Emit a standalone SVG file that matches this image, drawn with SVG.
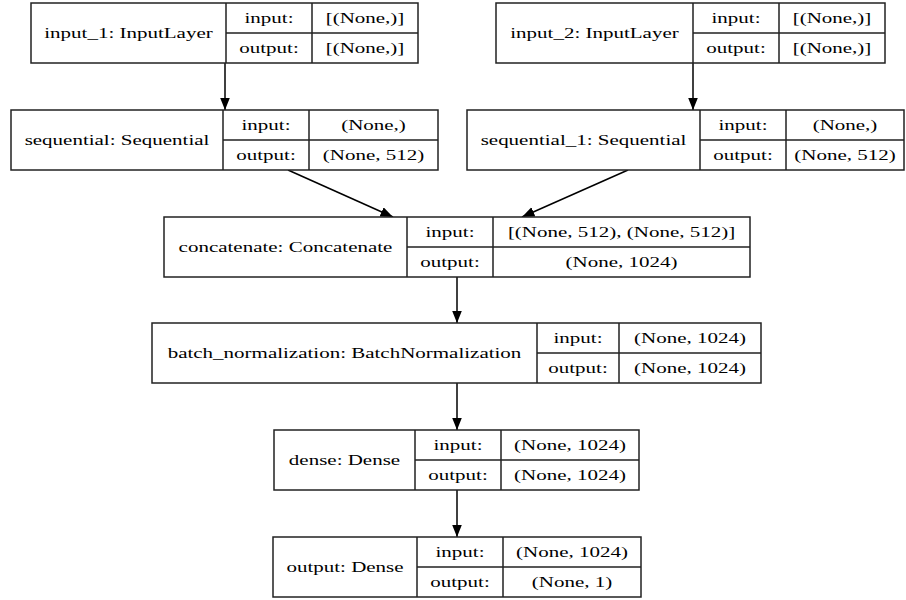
<svg xmlns="http://www.w3.org/2000/svg" width="906" height="600" viewBox="0 0 906 600">
<style>
.box{fill:#fff;stroke:#222;stroke-width:1.5}
.ln{stroke:#222;stroke-width:1.5;fill:none}
.t{font-family:"Liberation Serif","Times New Roman",serif;font-size:15px;fill:#000;text-anchor:middle}
.e{stroke:#000;stroke-width:1.5;fill:none;marker-end:url(#ah)}
</style>
<defs>
<marker id="ah" markerUnits="userSpaceOnUse" markerWidth="14" markerHeight="11" refX="12.5" refY="5" orient="auto">
<path d="M0,0 L12.5,5 L0,10 z" fill="#000"/>
</marker>
</defs>
<rect width="906" height="600" fill="#fff"/>
<g id="connectors">
<line class="e" x1="225" y1="63" x2="225" y2="110"/>
<line class="e" x1="693" y1="63" x2="693" y2="110"/>
<line class="e" x1="288" y1="170" x2="393" y2="217"/>
<line class="e" x1="628" y1="170" x2="522" y2="217"/>
<line class="e" x1="457" y1="277" x2="457" y2="323"/>
<line class="e" x1="457" y1="383" x2="457" y2="430"/>
<line class="e" x1="457" y1="490" x2="457" y2="537"/>
</g>
<g id="input_1">
<rect class="box" x="31" y="3" width="387" height="60"/>
<path class="ln" d="M226,3V63M312,3V63M226,33H418"/>
<text class="t" transform="translate(128.5,38) scale(1.4,1)">input_1: InputLayer</text>
<text class="t" transform="translate(269,23) scale(1.4,1)">input:</text>
<text class="t" transform="translate(269,53) scale(1.4,1)">output:</text>
<text class="t" transform="translate(365,23) scale(1.4,1)">[(None,)]</text>
<text class="t" transform="translate(365,53) scale(1.4,1)">[(None,)]</text>
</g>
<g id="input_2">
<rect class="box" x="496" y="3" width="389" height="60"/>
<path class="ln" d="M693,3V63M779,3V63M693,33H885"/>
<text class="t" transform="translate(594.5,38) scale(1.4,1)">input_2: InputLayer</text>
<text class="t" transform="translate(736,23) scale(1.4,1)">input:</text>
<text class="t" transform="translate(736,53) scale(1.4,1)">output:</text>
<text class="t" transform="translate(832,23) scale(1.4,1)">[(None,)]</text>
<text class="t" transform="translate(832,53) scale(1.4,1)">[(None,)]</text>
</g>
<g id="sequential">
<rect class="box" x="11" y="110" width="427" height="60"/>
<path class="ln" d="M223,110V170M309,110V170M223,140H438"/>
<text class="t" transform="translate(117,145) scale(1.4,1)">sequential: Sequential</text>
<text class="t" transform="translate(266,130) scale(1.4,1)">input:</text>
<text class="t" transform="translate(266,160) scale(1.4,1)">output:</text>
<text class="t" transform="translate(373.5,130) scale(1.4,1)">(None,)</text>
<text class="t" transform="translate(373.5,160) scale(1.4,1)">(None, 512)</text>
</g>
<g id="sequential_1">
<rect class="box" x="467" y="110" width="437" height="60"/>
<path class="ln" d="M700,110V170M786,110V170M700,140H904"/>
<text class="t" transform="translate(583.5,145) scale(1.4,1)">sequential_1: Sequential</text>
<text class="t" transform="translate(743,130) scale(1.4,1)">input:</text>
<text class="t" transform="translate(743,160) scale(1.4,1)">output:</text>
<text class="t" transform="translate(845,130) scale(1.4,1)">(None,)</text>
<text class="t" transform="translate(845,160) scale(1.4,1)">(None, 512)</text>
</g>
<g id="concatenate">
<rect class="box" x="164" y="217" width="586" height="60"/>
<path class="ln" d="M407,217V277M493,217V277M407,247H750"/>
<text class="t" transform="translate(285.5,252) scale(1.4,1)">concatenate: Concatenate</text>
<text class="t" transform="translate(450,237) scale(1.4,1)">input:</text>
<text class="t" transform="translate(450,267) scale(1.4,1)">output:</text>
<text class="t" transform="translate(621.5,237) scale(1.4,1)">[(None, 512), (None, 512)]</text>
<text class="t" transform="translate(621.5,267) scale(1.4,1)">(None, 1024)</text>
</g>
<g id="batch_normalization">
<rect class="box" x="152" y="323" width="609" height="60"/>
<path class="ln" d="M537,323V383M619,323V383M537,353H761"/>
<text class="t" transform="translate(344.5,358) scale(1.4,1)">batch_normalization: BatchNormalization</text>
<text class="t" transform="translate(578,343) scale(1.4,1)">input:</text>
<text class="t" transform="translate(578,373) scale(1.4,1)">output:</text>
<text class="t" transform="translate(690,343) scale(1.4,1)">(None, 1024)</text>
<text class="t" transform="translate(690,373) scale(1.4,1)">(None, 1024)</text>
</g>
<g id="dense">
<rect class="box" x="274" y="430" width="365" height="60"/>
<path class="ln" d="M415,430V490M501,430V490M415,460H639"/>
<text class="t" transform="translate(344.5,465) scale(1.4,1)">dense: Dense</text>
<text class="t" transform="translate(458,450) scale(1.4,1)">input:</text>
<text class="t" transform="translate(458,480) scale(1.4,1)">output:</text>
<text class="t" transform="translate(570,450) scale(1.4,1)">(None, 1024)</text>
<text class="t" transform="translate(570,480) scale(1.4,1)">(None, 1024)</text>
</g>
<g id="output">
<rect class="box" x="273" y="537" width="368" height="60"/>
<path class="ln" d="M417,537V597M503,537V597M417,567H641"/>
<text class="t" transform="translate(345,572) scale(1.4,1)">output: Dense</text>
<text class="t" transform="translate(460,557) scale(1.4,1)">input:</text>
<text class="t" transform="translate(460,587) scale(1.4,1)">output:</text>
<text class="t" transform="translate(572,557) scale(1.4,1)">(None, 1024)</text>
<text class="t" transform="translate(572,587) scale(1.4,1)">(None, 1)</text>
</g>
</svg>
